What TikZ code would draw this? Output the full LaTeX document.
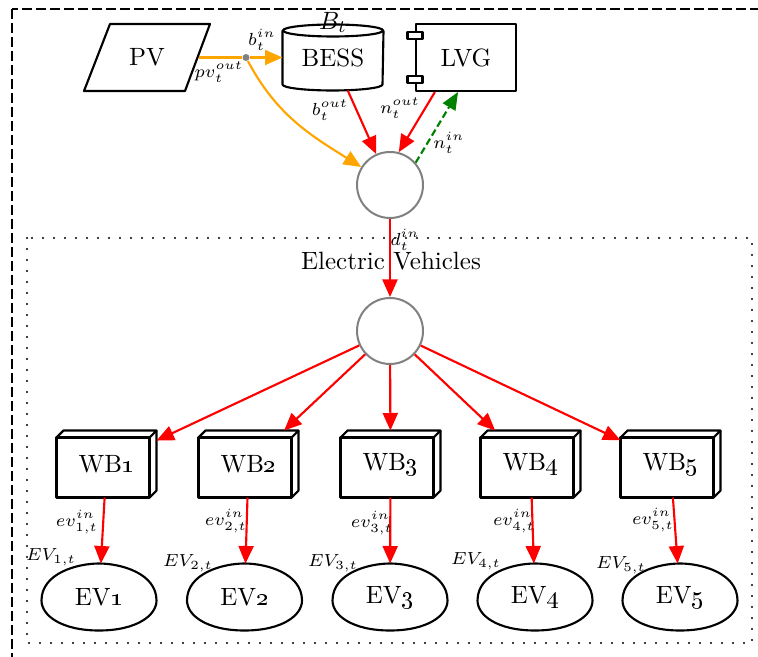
\documentclass[tikz,border=0pt]{standalone}
\usetikzlibrary{arrows.meta}
\definecolor{gvorange}{HTML}{FFA500}
\definecolor{gvgreen}{HTML}{008000}
\definecolor{gvgray}{HTML}{808080}
\begin{document}
\begin{tikzpicture}[x=0.4pt,y=-0.4pt,
  base/.style={line width=0.85pt, line join=round},
  tip/.style={-{Triangle[length=7pt,width=6pt]}},
  redarrow/.style={base, draw=red, tip},
  orangeline/.style={base, draw=gvorange},
  orangearrow/.style={base, draw=gvorange, tip},
  greendash/.style={base, draw=gvgreen, dash pattern=on 2.8pt off 1.4pt, -{Triangle[length=7pt,width=6pt,fill=gvgreen,line width=0pt]}},
  junction/.style={circle, draw=gvgray, line width=0.8pt, minimum size=26.4pt, inner sep=0},
  boxnode/.style={rectangle, minimum width=39.6pt, minimum height=26.4pt, inner sep=0},
  eggnode/.style={rectangle, minimum width=45.6pt, minimum height=26.4pt, inner sep=0},
  lab/.style={font=\scriptsize, inner sep=0}
]
\useasboundingbox (0,0) rectangle (758,657);
\clip (0,0) rectangle (758,657);

% frames
\draw[line width=0.8pt, dash pattern=on 4pt off 1.6pt] (12,9) rectangle (790,690);
\draw[line width=0.9pt, dash pattern=on 0pt off 4.4pt, line cap=round] (27,238) rectangle (752,643);
\node (evtitle) at (391,261) {Electric Vehicles};

% PV
\node (pv) at (147,57.5) {PV};
\draw[base] (110,24) -- (210,24) -- (185,91) -- (84,91) -- cycle;
\coordinate (pvout) at (198.5,57.5);
\node[circle, fill=gvgray, inner sep=0, minimum size=2.8pt] (dot) at (246,57.5) {};

% BESS cylinder
\node[rectangle, minimum width=40pt, minimum height=26pt, inner sep=0] (bess) at (333,57.5) {BESS};
\draw[base] ([yshift=-2.4pt]bess.north west) -- ([yshift=2.4pt]bess.south west)
  arc[start angle=180, end angle=360, x radius=20pt, y radius=2.4pt]
  -- ([yshift=-2.4pt]bess.north east);
\draw[base] ([yshift=-2.4pt]bess.north) ellipse[x radius=20pt, y radius=2.4pt];
\node (btlab) at ([yshift=0.8pt]bess.north) {$B_t$};

% LVG component
\node[base, draw, rectangle, minimum width=40pt, minimum height=26.8pt, inner sep=0] (lvg) at (466,57.5) {LVG};
\draw[base, fill=white] ([shift={(-3pt,7.4pt)}]lvg.west) rectangle ([shift={(3pt,10.2pt)}]lvg.west);
\draw[base, fill=white] ([shift={(-3pt,-10.2pt)}]lvg.west) rectangle ([shift={(3pt,-7.4pt)}]lvg.west);

% junctions
\node[junction] (c1) at (390,185) {};
\node[junction] (c2) at (390,331) {};

% top connectors
\draw[line width=0.85pt, draw=gvorange] (pvout) -- (dot.west);
\draw[orangearrow] (dot) -- (bess);
\draw[orangearrow] (dot) to[out=-62, in=148] (c1);
\draw[redarrow] (bess) -- (c1);
\draw[redarrow] (lvg.228) -- (c1.75);
\draw[greendash] (c1.41) -- (lvg.257);
\draw[redarrow] (c1) -- (c2);

\node[lab] (lbin) at (262,40) {$b_t^{in}$};
\node[lab] (lpvout) at (219,72) {$pv_t^{out}$};
\node[lab] (lbout) at (330,110) {$b_t^{out}$};
\node[lab] (lnout) at (400,108) {$n_t^{out}$};
\node[lab] (lnin) at (449,143) {$n_t^{in}$};
\node[lab] (ldin) at (405,240) {$d_t^{in}$};

% wallboxes and EVs
\foreach \i/\wx/\ex/\elx/\ely/\lx/\ly in {
  1/106.5/99/77/522/51/557,
  2/248.5/244.5/226/521/188/563,
  3/390.5/390/372/523/333/563,
  4/530.5/535/514/521/476/561,
  5/670.5/680/653/520/621/565} {
  \node[boxnode] (wb\i) at (\wx,464) {WB\oldstylenums{\i}};
  \draw[base] (wb\i.south west) rectangle ([shift={(-2.8pt,-2.8pt)}]wb\i.north east);
  \draw[base] ([yshift=-2.8pt]wb\i.north west) -- ([xshift=2.8pt]wb\i.north west)
     -- (wb\i.north east) -- ([shift={(-2.8pt,-2.8pt)}]wb\i.north east);
  \draw[base] (wb\i.north east) -- ([yshift=2.8pt]wb\i.south east) -- ([xshift=-2.8pt]wb\i.south east);
  \node[eggnode] (ev\i) at (\ex,597) {EV\oldstylenums{\i}};
  \draw[base] ([yshift=-1.4pt]ev\i.west) .. controls +(0,11pt) and +(-8.5pt,0) .. (ev\i.north)
     .. controls +(8.5pt,0) and +(0,11pt) .. ([yshift=-1.4pt]ev\i.east)
     .. controls +(0,-6pt) and +(15pt,0) .. (ev\i.south)
     .. controls +(-15pt,0) and +(0,-6pt) .. ([yshift=-1.4pt]ev\i.west);
  \draw[redarrow] (c2) -- (wb\i);
  \draw[redarrow] (wb\i) -- (ev\i);
  \node[lab] (evin\i) at (\elx,\ely) {$ev_{\i,t}^{in}$};
  \node[lab] (evl\i) at (\lx,\ly) {$EV_{\i,t}$};
}
\end{tikzpicture}
\end{document}
